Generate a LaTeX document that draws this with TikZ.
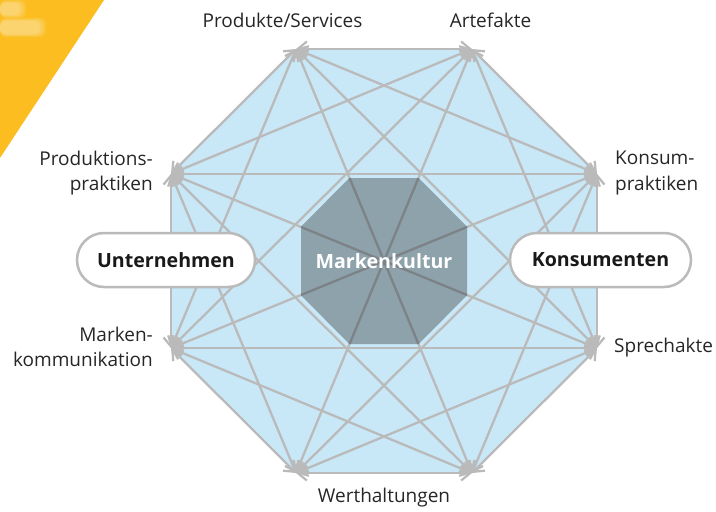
\documentclass[tikz,border=0pt]{standalone}
\usepackage{fontspec}
\setmainfont{Open Sans}
\usetikzlibrary{arrows.meta}
\definecolor{cornerYellow}{HTML}{FBBD1F}
\definecolor{paleBlue}{HTML}{C8E8F8}
\definecolor{coreGrey}{HTML}{8EA2AC}
\definecolor{linkGrey}{HTML}{BABABA}
\definecolor{linkDark}{HTML}{7C8286}
\definecolor{labelInk}{HTML}{262626}
\tikzset{
  link/.style={draw=linkGrey, line width=2.3pt,
    {Straight Barb[length=9pt,width=15pt,line width=2.3pt]}-{Straight Barb[length=9pt,width=15pt,line width=2.3pt]}},
  corelink/.style={draw=linkDark, line width=2.3pt},
  label/.style={font=\fontsize{19}{25.7}\selectfont, text=labelInk, inner sep=0pt},
  pill/.style={draw=linkGrey, line width=2.5pt, fill=white, rounded corners=27pt,
    minimum height=54pt, inner sep=0pt, text=black!90,
    font=\fontsize{19.6}{22}\selectfont\bfseries},
}
\begin{document}
\begin{tikzpicture}[x=1pt,y=-1pt]
\useasboundingbox (0,0) rectangle (716,512);

% corner decoration with a soft, washed-out emblem
\fill[cornerYellow] (0,0) -- (104,0) -- (0,158) -- cycle;
\foreach \g in {0,2,4,6}{
  \fill[white, opacity=0.11, rounded corners=6pt] (0,3-\g/2) rectangle (20+\g,15+\g/2);
  \fill[white, opacity=0.11, rounded corners=6pt] (0,21-\g/2) rectangle (40+\g,34+\g/2);
}

% outer ring of eight practice positions
\coordinate (v0) at (296,49);
\coordinate (v1) at (472,49);
\coordinate (v2) at (597,173.8);
\coordinate (v3) at (597,348.2);
\coordinate (v4) at (472,473);
\coordinate (v5) at (296,473);
\coordinate (v6) at (171,348.2);
\coordinate (v7) at (171,173.8);

\fill[paleBlue] (v0) -- (v1) -- (v2) -- (v3) -- (v4) -- (v5) -- (v6) -- (v7) -- cycle;

% inner core octagon
\coordinate (c0) at (349.4,178);
\coordinate (c1) at (418.6,178);
\coordinate (c2) at (467,226.6);
\coordinate (c3) at (467,295.4);
\coordinate (c4) at (418.6,344);
\coordinate (c5) at (349.4,344);
\coordinate (c6) at (301,295.4);
\coordinate (c7) at (301,226.6);

% all links between the positions
\foreach \a/\b in {0/1,0/2,0/3,0/4,0/6,0/7,
                   1/2,1/3,1/5,1/6,1/7,
                   2/3,2/4,2/5,2/6,2/7,
                   3/4,3/5,3/6,3/7,
                   4/5,4/6,4/7,
                   5/6,5/7,
                   6/7}{
  \draw[link] (v\a) -- (v\b);
}

\fill[coreGrey] (c0) -- (c1) -- (c2) -- (c3) -- (c4) -- (c5) -- (c6) -- (c7) -- cycle;
\begin{scope}
  \clip (c0) -- (c1) -- (c2) -- (c3) -- (c4) -- (c5) -- (c6) -- (c7) -- cycle;
  \foreach \a/\b in {0/4,1/5,2/6,3/7,0/3,1/6,2/5,4/7,0/2,1/3}{
    \draw[corelink] (v\a) -- (v\b);
  }
\end{scope}
\node[font=\fontsize{19.6}{22}\selectfont\bfseries, text=white, inner sep=0pt] (core) at (384,261) {Markenkultur};

% actors
\node[pill, minimum width=178pt] (firm) at (166,260) {Unternehmen};
\node[pill, minimum width=181pt] (cons) at (600.5,260) {Konsumenten};

% position labels
\node[label, anchor=base] (l0) at (282.5,27) {Produkte/Services};
\node[label, anchor=base] (l1) at (490.5,27) {Artefakte};
\node[label, anchor=east, align=right] (l7) at (153,173) {Produktions-\\praktiken};
\node[label, anchor=east, align=right] (l6) at (153,347) {Marken-\\kommunikation};
\node[label, anchor=west, align=left] (l2) at (615,173) {Konsum-\\praktiken};
\node[label, anchor=west] (l3) at (614,348) {Sprechakte};
\node[label] (l5) at (384,498) {Werthaltungen};
\end{tikzpicture}
\end{document}
